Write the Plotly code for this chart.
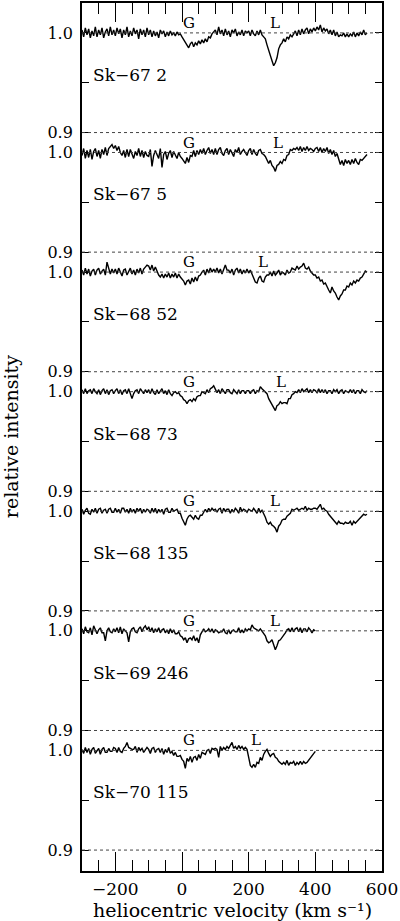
import plotly.graph_objects as go

# star names (panel labels), top to bottom
stars = ["Sk\u221267 2", "Sk\u221267 5", "Sk\u221268 52", "Sk\u221268 73",
         "Sk\u221268 135", "Sk\u221269 246", "Sk\u221270 115"]

# heliocentric velocity sampling (km/s)
vel_long = list(range(-300, 560, 5))    # panels 1-5
vel_short = list(range(-300, 405, 5))   # panels 6-7

# relative intensity, in units of 0.001 deviation from 1.0
dev_sk67_2 = [
    3,-4,5,-2,4,-5,2,-3,6,-4,3,-2,5,-5,1,4,-3,6,-2,3,
    -3,5,-1,4,-5,3,-2,6,-4,2,-3,5,-1,3,-6,4,-2,3,-4,5,
    -2,3,-4,2,-3,1,-5,3,-1,2,-4,1,-3,2,-2,0,-3,1,-2,-1,
    -4,-7,-10,-12,-15,-11,-9,-14,-10,-12,-8,-11,-7,-10,-6,-9,-4,-5,-1,1,
    3,-2,6,-1,3,-3,4,-2,2,-4,3,0,4,-3,1,-2,3,-3,2,0,
    2,-3,3,-1,-3,2,-2,3,-2,-4,-6,-12,-18,-22,-28,-33,-30,-25,-16,-12,
    -10,-6,-9,-4,-6,-2,-4,-1,2,-3,3,-2,4,-1,3,5,-1,4,1,5,
    2,6,3,8,1,5,2,4,-1,3,-2,3,-3,1,-4,-2,-3,0,-4,-1,
    -4,-1,-3,1,-4,0,-3,1,-2,3,-2,0]
dev_sk67_5 = [
    -3,4,-6,2,-5,3,-7,1,4,-4,2,-6,3,-2,5,-3,4,6,8,4,
    7,2,6,0,-3,2,-5,3,-4,3,-2,-6,1,-3,4,-4,2,-5,1,-3,
    -4,3,-14,-3,2,-3,-6,4,-15,-2,1,-7,-1,2,-5,1,-3,-6,0,-4,
    -6,-9,-11,-5,-10,-3,-4,2,-4,2,-2,3,-1,4,-2,2,5,-1,3,-2,
    4,-2,3,5,-1,-3,2,4,-2,3,-1,-4,3,0,5,-2,1,3,0,-3,
    2,4,-2,3,-1,-3,2,3,-1,-2,-4,-7,-11,-8,-13,-15,-19,-13,-12,-9,
    -11,-7,-8,-3,-2,3,2,4,3,5,2,6,1,5,2,6,2,4,3,1,
    4,5,1,5,0,4,1,5,-1,3,-2,2,-4,-1,-8,-12,-8,-13,-7,-11,
    -8,-12,-7,-11,-6,-10,-12,-7,-8,-6,-5,-2]
dev_sk68_52 = [
    2,-3,4,-2,3,-4,1,3,-3,2,4,-2,1,3,-3,10,4,-2,3,-1,
    3,-2,4,-1,-4,2,3,-3,1,4,-2,2,-3,3,-1,4,-2,3,5,7,
    6,2,7,1,5,0,-3,-5,-2,-6,-2,-5,-1,-6,-2,-5,-1,-6,-2,-5,
    -7,-9,-13,-9,-8,-12,-6,-10,-5,-9,-4,-3,0,2,-3,3,-1,4,0,3,
    0,4,-1,3,-2,3,7,2,2,-1,3,-3,2,4,-1,3,-2,2,-1,3,
    -1,2,-2,-5,-10,-11,-6,-4,-9,-10,-5,-3,-3,0,-4,1,-3,-1,2,-3,
    0,-1,-3,2,-1,0,4,3,2,6,3,5,6,9,4,3,5,1,-1,-3,
    -3,-6,-5,-9,-8,-12,-11,-15,-18,-21,-15,-19,-21,-25,-28,-24,-22,-18,-18,-14,
    -15,-11,-13,-9,-11,-8,-9,-6,-5,-2,1,0]
dev_sk68_73 = [
    2,-2,3,-2,1,2,-2,3,0,-2,2,-3,1,3,-2,2,-3,1,2,-2,
    1,3,-2,2,-3,1,2,-2,3,-2,-7,-2,1,2,-2,3,0,-2,2,-1,
    2,-2,3,-1,-3,2,-2,1,3,-2,1,-3,2,-2,-4,-1,0,-2,-1,-4,
    -5,-8,-9,-12,-9,-8,-10,-7,-9,-5,-4,-4,0,-1,-2,2,-1,3,4,6,
    2,-1,2,-2,3,0,-2,2,2,-1,-2,2,0,-2,2,-2,1,1,-2,1,
    1,-2,1,2,-2,1,0,5,3,1,-1,-2,-7,-10,-14,-16,-19,-14,-13,-10,
    -12,-11,-11,-12,-7,-7,-3,-2,0,-1,2,-1,3,0,2,3,-1,2,-1,2,
    1,-1,3,-1,2,-1,2,-2,1,1,-2,2,0,2,-2,1,2,-2,1,0,
    -1,2,-1,2,-2,1,1,-2,2,0,-1,1]
dev_sk68_135 = [
    2,-3,1,3,-2,-3,2,-1,3,-2,2,3,-2,1,2,-2,2,3,-1,-1,
    3,-1,2,-2,3,3,-1,2,-2,3,-1,2,-2,3,0,3,-2,2,-1,2,
    1,-2,3,-1,3,-2,2,-1,2,-3,2,3,-1,-1,3,0,1,2,-2,-2,
    -7,-10,-14,-8,-5,-4,-6,-8,-4,-7,-8,-4,-4,-1,2,-1,3,0,3,1,
    2,-1,2,3,-2,3,0,2,2,-2,2,-1,3,1,-2,4,0,2,1,-1,
    2,1,0,3,1,-2,3,-1,1,-2,-6,-11,-13,-11,-14,-15,-17,-21,-15,-13,
    -9,-8,-8,-5,-3,-2,2,1,2,3,1,2,3,2,5,1,3,2,2,3,
    3,2,5,7,2,3,1,0,-3,-5,-8,-9,-11,-13,-10,-12,-12,-13,-11,-12,
    -12,-10,-14,-10,-12,-10,-9,-7,-5,-3,-4,-3]
dev_sk69_246 = [
    2,-3,4,-1,-2,3,-4,5,1,-3,1,3,-2,-2,-10,0,3,-1,-2,2,
    -1,3,-2,4,-3,2,0,-2,-11,-1,2,3,-1,-2,2,4,-1,3,5,1,
    4,-1,3,-2,2,-1,3,-2,1,2,-2,1,-3,2,-2,1,-3,-3,-1,-5,
    -6,-9,-7,-12,-8,-7,-9,-5,-10,-7,-12,-4,-1,2,-1,0,2,-1,2,-2,
    1,0,-2,-1,-1,2,-2,-3,1,-3,0,1,-1,-1,3,-2,1,-2,2,0,
    2,1,6,3,2,1,0,2,0,-2,-5,-10,-12,-11,-9,-14,-19,-15,-10,-9,
    -7,-5,-2,1,2,-1,3,-1,2,3,-1,3,-2,2,2,-1,3,1,-2,1,0]
dev_sk70_115 = [
    1,-3,3,-2,2,-4,1,3,-3,-1,2,-4,1,3,-2,-2,2,-1,-1,3,
    2,-2,3,-1,-2,2,4,8,3,2,1,1,4,-2,3,0,2,-2,1,3,
    1,-3,2,3,-2,1,2,-2,2,-4,1,-2,3,-3,-1,-5,-2,-6,-6,-5,
    -9,-11,-18,-8,-11,-6,-12,-7,-6,-10,-4,-8,-2,-3,-4,0,1,-3,2,1,
    2,1,-7,4,0,3,1,4,2,5,8,2,4,1,5,2,4,1,3,1,
    -8,-15,-17,-14,-17,-12,-13,-7,-10,-4,-1,1,-3,-6,-4,-3,-7,-8,-11,-13,
    -14,-12,-14,-10,-15,-12,-13,-11,-15,-12,-14,-11,-14,-11,-13,-12,-10,-8,-6,-3,-1]

spectra = [dev_sk67_2, dev_sk67_5, dev_sk68_52, dev_sk68_73,
           dev_sk68_135, dev_sk69_246, dev_sk70_115]
velocities = [vel_long] * 5 + [vel_short] * 2

# component labels: Galactic (G) and LMC (L) velocity positions
g_vel = [22, 22, 20, 22, 22, 22, 22]
l_vel = [280, 288, 243, 298, 278, 278, 221]

x_tickvals = [-200, 0, 200, 400, 600]
panel_step = 0.12
FONT = "DejaVu Serif"

fig = go.Figure()
shapes = []
annotations = []
ytv, ytt, yminor = [], [], []
for k, (dev, vel) in enumerate(zip(spectra, velocities)):
    off = -panel_step * k
    n = min(len(dev), len(vel))
    fig.add_trace(go.Scatter(
        x=vel[:n], y=[1 + d / 1000.0 + off for d in dev[:n]],
        mode="lines", line=dict(color="black", width=1.4),
        hoverinfo="skip", showlegend=False))
    for lev in (1.0, 0.9):
        shapes.append(dict(type="line", xref="paper", x0=0, x1=1, yref="y",
                           y0=lev + off, y1=lev + off,
                           line=dict(color="#444", width=1, dash="dot")))
    ytv += [1.0 + off, 0.9 + off]
    ytt += ["1.0", "0.9"]
    yminor.append(0.95 + off)
    annotations.append(dict(x=-272, y=0.958 + off, xref="x", yref="y",
                            text=stars[k], showarrow=False, xanchor="left",
                            yanchor="middle", font=dict(family=FONT, size=17, color="black")))
    annotations.append(dict(x=g_vel[k], y=1.010 + off, xref="x", yref="y",
                            text="G", showarrow=False, xanchor="center",
                            yanchor="middle", font=dict(family=FONT, size=15, color="black")))
    annotations.append(dict(x=l_vel[k], y=1.010 + off, xref="x", yref="y",
                            text="L", showarrow=False, xanchor="center",
                            yanchor="middle", font=dict(family=FONT, size=15, color="black")))

annotations.append(dict(x=0.5, y=-0.0445, xref="paper", yref="paper",
                        text="heliocentric velocity (km s\u207b\u00b9)",
                        showarrow=False, xanchor="center", yanchor="middle",
                        font=dict(family=FONT, size=19, color="black")))
annotations.append(dict(x=-0.236, y=0.5, xref="paper", yref="paper",
                        text="relative intensity", textangle=-90,
                        showarrow=False, xanchor="center", yanchor="middle",
                        font=dict(family=FONT, size=19, color="black")))

fig.update_layout(
    width=400, height=921,
    margin=dict(l=82, r=18, t=1, b=50),
    plot_bgcolor="white", paper_bgcolor="white",
    showlegend=False, shapes=shapes, annotations=annotations,
    xaxis=dict(range=[-300, 600], tickvals=x_tickvals,
               ticks="inside", ticklen=19, tickwidth=1.3, tickcolor="black",
               mirror="allticks", showline=True, linewidth=1.8, linecolor="black",
               showgrid=False, zeroline=False, ticklabelstandoff=2,
               minor=dict(dtick=50, tick0=0, ticks="inside", ticklen=11,
                          tickwidth=1.3, tickcolor="black", showgrid=False),
               tickfont=dict(family=FONT, size=17, color="black")),
    yaxis=dict(range=[0.159, 1.03], tickmode="array", tickvals=ytv, ticktext=ytt,
               ticks="inside", ticklen=7, tickwidth=1.3, tickcolor="black",
               mirror="allticks", showline=True, linewidth=1.8, linecolor="black",
               showgrid=False, zeroline=False, ticklabelstandoff=4,
               minor=dict(tickmode="array", tickvals=yminor, ticks="inside",
                          ticklen=7, tickwidth=1.3, tickcolor="black", showgrid=False),
               tickfont=dict(family=FONT, size=16, color="black")),
)

fig.write_html("out.html", config={"displayModeBar": False},
               post_script="document.body.style.margin='0';document.body.style.overflow='hidden';")
